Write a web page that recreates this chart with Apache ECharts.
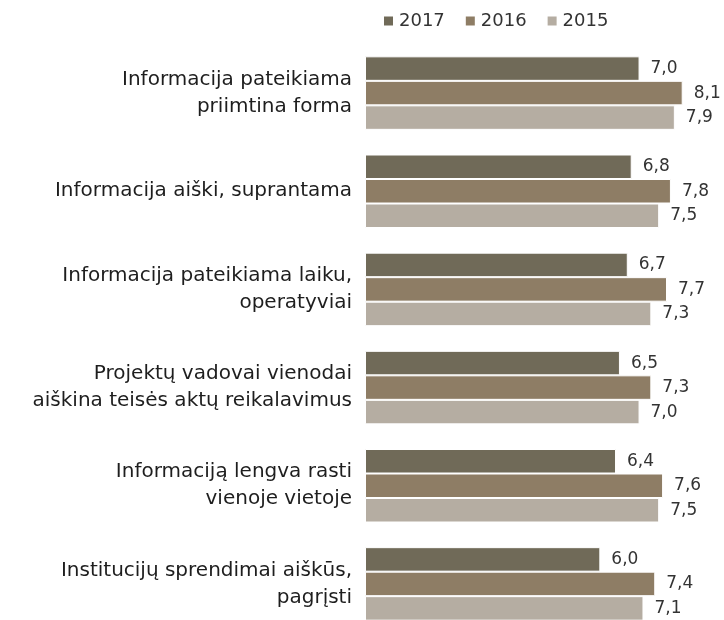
<!DOCTYPE html>
<html>
<head>
<meta charset="utf-8">
<script src="https://cdn.jsdelivr.net/npm/echarts@6/dist/echarts.min.js"></script>
<style>
  html, body { margin: 0; padding: 0; background: #fff; }
  #chart { width: 724px; height: 620px; }
</style>
</head>
<body>
<div id="chart"></div>
<script>
(function(){
  'use strict';

  // kategorijos (iš viršaus į apačią)
  var categories = [
    'Informacija pateikiama\npriimtina forma',
    'Informacija aiški, suprantama',
    'Informacija pateikiama laiku,\noperatyviai',
    'Projektų vadovai vienodai\naiškina teisės aktų reikalavimus',
    'Informaciją lengva rasti\nvienoje vietoje',
    'Institucijų sprendimai aiškūs,\npagrįsti'
  ];
  var years = ['2017', '2016', '2015'];
  var values2017 = [7.0, 6.8, 6.7, 6.5, 6.4, 6.0];
  var values2016 = [8.1, 7.8, 7.7, 7.3, 7.6, 7.4];
  var values2015 = [7.9, 7.5, 7.3, 7.0, 7.5, 7.1];
  var colors = ['#706a58', '#8e7d65', '#b5ada2'];

  var font = '"DejaVu Sans", sans-serif';

  function makeSeries(name, data, color) {
    return {
      name: name,
      type: 'bar',
      data: data,
      barWidth: 24.5,
      barGap: '0%',
      itemStyle: { color: color, borderColor: '#ffffff', borderWidth: 1 },
      label: {
        show: true,
        position: 'right',
        distance: 11,
        color: '#333',
        fontFamily: font,
        fontSize: 17,
        formatter: function (p) { return p.value.toFixed(1).replace('.', ','); }
      }
    };
  }

  var chart = echarts.init(document.getElementById('chart'));
  chart.setOption({
    animation: false,
    legend: {
      top: 7,
      left: 377,
      icon: 'rect',
      itemWidth: 11,
      itemHeight: 11,
      itemGap: 19,
      textStyle: { fontFamily: font, fontSize: 18, color: '#333' },
      data: years
    },
    grid: { left: 365, width: 353, top: 44, height: 589, containLabel: false, outerBoundsMode: 'none' },
    xAxis: {
      type: 'value',
      min: 0,
      max: 9,
      show: false
    },
    yAxis: {
      type: 'category',
      inverse: true,
      data: categories,
      axisLine: { show: false },
      axisTick: { show: false },
      axisLabel: {
        margin: 13,
        color: '#1e1e1e',
        fontFamily: font,
        fontSize: 20,
        lineHeight: 27,
        align: 'right'
      }
    },
    series: [
      makeSeries(years[0], values2017, colors[0]),
      makeSeries(years[1], values2016, colors[1]),
      makeSeries(years[2], values2015, colors[2])
    ]
  });
})();
</script>
</body>
</html>
